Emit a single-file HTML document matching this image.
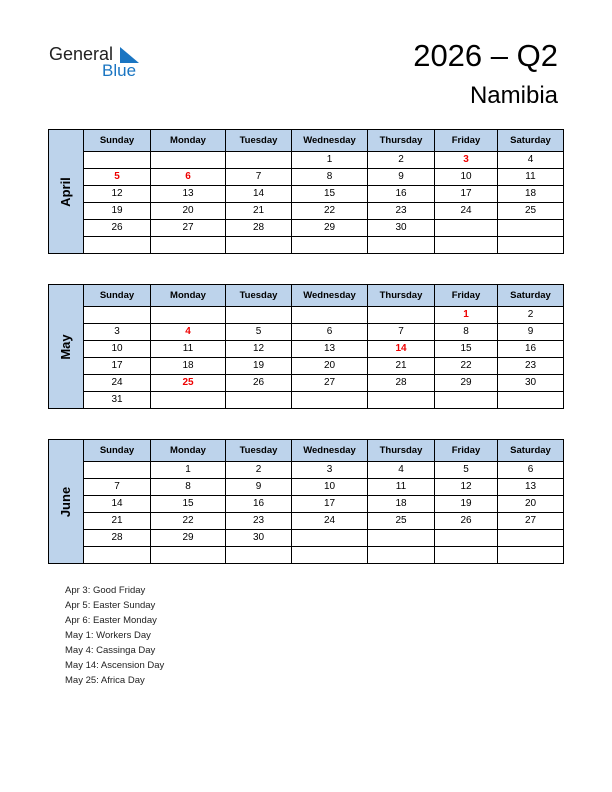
<!DOCTYPE html>
<html><head><meta charset="utf-8"><style>
body{margin:0;width:612px;height:792px;background:#fff;font-family:"Liberation Sans",sans-serif;position:relative}
.t{position:absolute;left:48px;border-collapse:collapse;table-layout:fixed;font-size:10px;color:#000}
.t td{border:1px solid #000;text-align:center;height:16px;padding:0;line-height:16px}
.t tr.h td{background:#bdd3eb;height:21px;font-weight:bold;font-size:9.5px}
.t tr.h td.m{background:#bdd3eb;position:relative;font-weight:bold;font-size:13px}
.m span{position:absolute;left:50%;top:50%;transform:translate(-50%,-50%) rotate(-90deg);white-space:nowrap}
.r{color:#e00;font-weight:bold}
.hol{position:absolute;left:65px;top:583px;font-size:9.5px;line-height:15px;color:#222}
</style></head><body>
<div style="position:absolute;left:49px;top:44px;font-size:18px;color:#222">General</div>
<div style="position:absolute;left:102px;top:61px;font-size:17px;color:#1a75c2">Blue</div>
<div style="position:absolute;left:120px;top:47px;width:0;height:0;border-left:19px solid #1a75c2;border-top:16px solid transparent"></div>
<div style="position:absolute;right:54px;top:38px;font-size:31px;color:#000">2026 – Q2</div>
<div style="position:absolute;right:54px;top:82px;font-size:24px;color:#000">Namibia</div>

<table class="t" style="top:129px">
<colgroup><col style="width:35px"><col style="width:67px"><col style="width:75px"><col style="width:66px"><col style="width:76px"><col style="width:67px"><col style="width:63px"><col style="width:66px"></colgroup>
<tr class="h"><td class="m" rowspan="7"><span>April</span></td><td>Sunday</td><td>Monday</td><td>Tuesday</td><td>Wednesday</td><td>Thursday</td><td>Friday</td><td>Saturday</td></tr>
<tr><td></td><td></td><td></td><td>1</td><td>2</td><td class="r">3</td><td>4</td></tr>
<tr><td class="r">5</td><td class="r">6</td><td>7</td><td>8</td><td>9</td><td>10</td><td>11</td></tr>
<tr><td>12</td><td>13</td><td>14</td><td>15</td><td>16</td><td>17</td><td>18</td></tr>
<tr><td>19</td><td>20</td><td>21</td><td>22</td><td>23</td><td>24</td><td>25</td></tr>
<tr><td>26</td><td>27</td><td>28</td><td>29</td><td>30</td><td></td><td></td></tr>
<tr><td></td><td></td><td></td><td></td><td></td><td></td><td></td></tr>
</table>

<table class="t" style="top:284px">
<colgroup><col style="width:35px"><col style="width:67px"><col style="width:75px"><col style="width:66px"><col style="width:76px"><col style="width:67px"><col style="width:63px"><col style="width:66px"></colgroup>
<tr class="h"><td class="m" rowspan="7"><span>May</span></td><td>Sunday</td><td>Monday</td><td>Tuesday</td><td>Wednesday</td><td>Thursday</td><td>Friday</td><td>Saturday</td></tr>
<tr><td></td><td></td><td></td><td></td><td></td><td class="r">1</td><td>2</td></tr>
<tr><td>3</td><td class="r">4</td><td>5</td><td>6</td><td>7</td><td>8</td><td>9</td></tr>
<tr><td>10</td><td>11</td><td>12</td><td>13</td><td class="r">14</td><td>15</td><td>16</td></tr>
<tr><td>17</td><td>18</td><td>19</td><td>20</td><td>21</td><td>22</td><td>23</td></tr>
<tr><td>24</td><td class="r">25</td><td>26</td><td>27</td><td>28</td><td>29</td><td>30</td></tr>
<tr><td>31</td><td></td><td></td><td></td><td></td><td></td><td></td></tr>
</table>

<table class="t" style="top:439px">
<colgroup><col style="width:35px"><col style="width:67px"><col style="width:75px"><col style="width:66px"><col style="width:76px"><col style="width:67px"><col style="width:63px"><col style="width:66px"></colgroup>
<tr class="h"><td class="m" rowspan="7"><span>June</span></td><td>Sunday</td><td>Monday</td><td>Tuesday</td><td>Wednesday</td><td>Thursday</td><td>Friday</td><td>Saturday</td></tr>
<tr><td></td><td>1</td><td>2</td><td>3</td><td>4</td><td>5</td><td>6</td></tr>
<tr><td>7</td><td>8</td><td>9</td><td>10</td><td>11</td><td>12</td><td>13</td></tr>
<tr><td>14</td><td>15</td><td>16</td><td>17</td><td>18</td><td>19</td><td>20</td></tr>
<tr><td>21</td><td>22</td><td>23</td><td>24</td><td>25</td><td>26</td><td>27</td></tr>
<tr><td>28</td><td>29</td><td>30</td><td></td><td></td><td></td><td></td></tr>
<tr><td></td><td></td><td></td><td></td><td></td><td></td><td></td></tr>
</table>

<div class="hol">Apr 3: Good Friday<br>Apr 5: Easter Sunday<br>Apr 6: Easter Monday<br>May 1: Workers Day<br>May 4: Cassinga Day<br>May 14: Ascension Day<br>May 25: Africa Day</div>
</body></html>
